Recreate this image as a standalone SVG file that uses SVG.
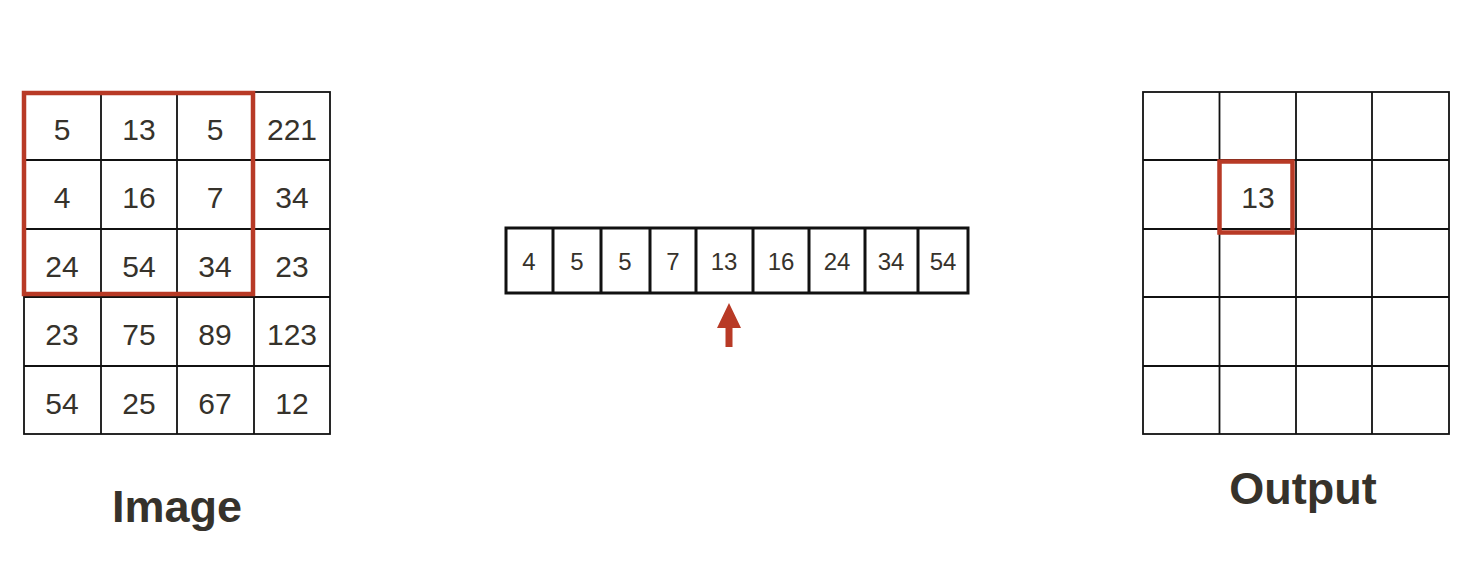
<svg xmlns="http://www.w3.org/2000/svg" width="1480" height="582" viewBox="0 0 1480 582">
<style>
.g{fill:none;stroke:#111;stroke-width:1.8}
.arr{fill:none;stroke:#111;stroke-width:3}
.hl{fill:none;stroke:#b83a26;stroke-width:4.5}
.t{font-family:"Liberation Sans",Arial,sans-serif;font-size:30px;fill:#36322b;text-anchor:middle}
.s{font-family:"Liberation Sans",Arial,sans-serif;font-size:24px;fill:#36322b;text-anchor:middle}
.lbl{font-family:"Liberation Sans",Arial,sans-serif;font-size:45px;font-weight:bold;fill:#36322b;text-anchor:middle}
</style>
<rect width="1480" height="582" fill="#fff"/>
<g id="image-grid">
<rect class="g" x="24" y="92" width="306" height="342"/>
<path class="g" d="M101 92V434M177 92V434M254 92V434M24 160H330M24 229H330M24 297H330M24 366H330"/>
<g class="t">
<text x="62" y="140">5</text><text x="139" y="140">13</text><text x="215" y="140">5</text><text x="292" y="140">221</text>
<text x="62" y="208">4</text><text x="139" y="208">16</text><text x="215" y="208">7</text><text x="292" y="208">34</text>
<text x="62" y="277">24</text><text x="139" y="277">54</text><text x="215" y="277">34</text><text x="292" y="277">23</text>
<text x="62" y="345">23</text><text x="139" y="345">75</text><text x="215" y="345">89</text><text x="292" y="345">123</text>
<text x="62" y="414">54</text><text x="139" y="414">25</text><text x="215" y="414">67</text><text x="292" y="414">12</text>
</g>
<rect class="hl" x="24" y="93" width="229" height="201"/>
<text class="lbl" x="177" y="522">Image</text>
</g>
<g id="sorted-array">
<rect class="arr" x="506" y="228" width="462" height="65"/>
<path class="arr" d="M553 228V293M601 228V293M650 228V293M696 228V293M753 228V293M809 228V293M865 228V293M918 228V293"/>
<g class="s">
<text x="529" y="270">4</text><text x="577" y="270">5</text><text x="625" y="270">5</text><text x="673" y="270">7</text>
<text x="724" y="270">13</text><text x="781" y="270">16</text><text x="837" y="270">24</text><text x="891" y="270">34</text><text x="943" y="270">54</text>
</g>
</g>
<g id="connectors">
<path d="M729 303L741 328H732.5V347H725.5V328H717Z" fill="#b83a26"/>
</g>
<g id="output-grid">
<rect class="g" x="1143" y="92" width="306" height="342"/>
<path class="g" d="M1219.5 92V434M1296 92V434M1372 92V434M1143 160H1449M1143 229H1449M1143 297H1449M1143 366H1449"/>
<rect class="hl" x="1219.5" y="161.5" width="73" height="71"/>
<text class="t" x="1258" y="208">13</text>
<text class="lbl" x="1303" y="504">Output</text>
</g>
</svg>
